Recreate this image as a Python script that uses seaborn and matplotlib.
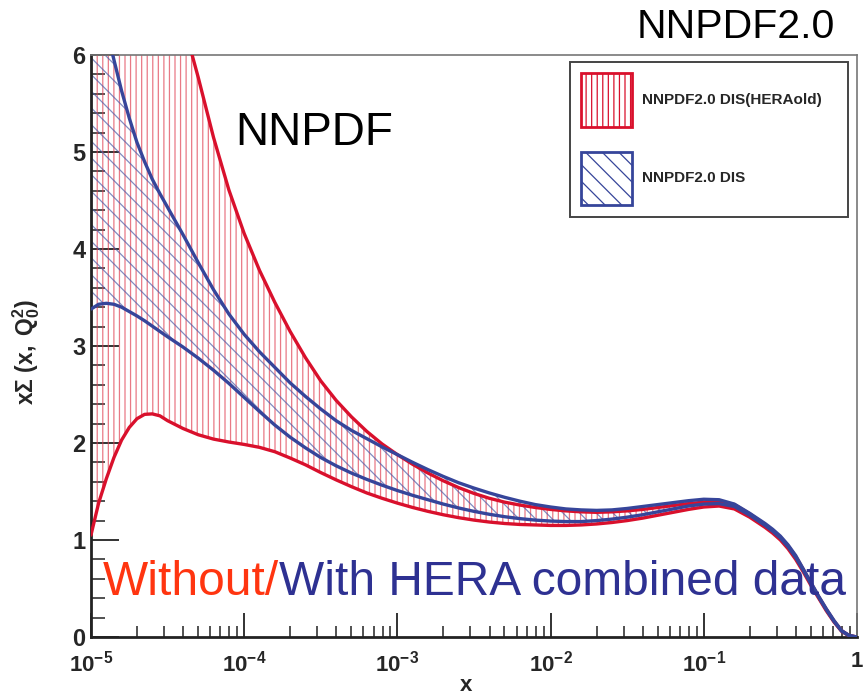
import numpy as np
import pandas as pd
import matplotlib
matplotlib.use("Agg")
import matplotlib.pyplot as plt
import seaborn as sns
from matplotlib.patches import Patch
from matplotlib.ticker import FixedLocator, NullFormatter

# ---------------- data ----------------
log_x = [-5.0, -4.95, -4.9, -4.85, -4.8, -4.75, -4.7, -4.65, -4.6, -4.55,
         -4.5, -4.4, -4.3, -4.2, -4.1, -4.0, -3.9, -3.8, -3.7, -3.6,
         -3.5, -3.4, -3.3, -3.2, -3.1, -3.0, -2.9, -2.8, -2.7, -2.6,
         -2.5, -2.4, -2.3, -2.2, -2.1, -2.0, -1.9, -1.8, -1.7, -1.6,
         -1.5, -1.4, -1.3, -1.2, -1.1, -1.0, -0.9, -0.8, -0.7, -0.6,
         -0.55, -0.5, -0.45, -0.4, -0.35, -0.3, -0.25, -0.2, -0.15, -0.1,
         -0.05, 0.0]

# NNPDF2.0 DIS (HERAold) band
red_upper = [10.2, 9.85, 9.5, 9.15, 8.8, 8.45, 8.1, 7.8, 7.5, 7.2,
             6.9, 6.35, 5.77, 5.15, 4.61, 4.16, 3.78, 3.45, 3.15, 2.88,
             2.64, 2.44, 2.27, 2.12, 1.99, 1.88, 1.78, 1.69, 1.61, 1.54,
             1.48, 1.43, 1.39, 1.36, 1.335, 1.315, 1.30, 1.29, 1.285, 1.29,
             1.30, 1.315, 1.335, 1.355, 1.375, 1.39, 1.40, 1.365, 1.27, 1.16,
             1.10, 1.03, 0.94, 0.83, 0.695, 0.555, 0.415, 0.285, 0.165, 0.065,
             0.014, 0.0]
red_lower = [1.05, 1.38, 1.63, 1.85, 2.03, 2.16, 2.25, 2.295, 2.30, 2.28,
             2.23, 2.15, 2.085, 2.04, 2.01, 1.985, 1.955, 1.91, 1.845, 1.775,
             1.695, 1.62, 1.55, 1.485, 1.43, 1.38, 1.335, 1.295, 1.26, 1.23,
             1.205, 1.185, 1.17, 1.16, 1.155, 1.15, 1.15, 1.155, 1.165, 1.18,
             1.20, 1.225, 1.255, 1.285, 1.315, 1.34, 1.35, 1.32, 1.235, 1.13,
             1.07, 1.00, 0.91, 0.80, 0.67, 0.53, 0.40, 0.27, 0.155, 0.058,
             0.011, 0.0]

# NNPDF2.0 DIS band
blue_upper = [7.0, 6.6, 6.27, 5.95, 5.63, 5.35, 5.10, 4.90, 4.72, 4.57,
              4.43, 4.15, 3.86, 3.58, 3.33, 3.12, 2.94, 2.78, 2.62, 2.48,
              2.35, 2.23, 2.13, 2.045, 1.96, 1.88, 1.80, 1.725, 1.655, 1.59,
              1.535, 1.485, 1.44, 1.40, 1.365, 1.34, 1.32, 1.31, 1.305, 1.31,
              1.325, 1.345, 1.365, 1.385, 1.405, 1.42, 1.415, 1.37, 1.275, 1.17,
              1.11, 1.04, 0.95, 0.84, 0.70, 0.56, 0.42, 0.29, 0.17, 0.065,
              0.015, 0.0]
blue_lower = [3.38, 3.43, 3.44, 3.43, 3.40, 3.355, 3.31, 3.26, 3.205, 3.15,
              3.095, 2.99, 2.875, 2.75, 2.615, 2.47, 2.325, 2.185, 2.06, 1.95,
              1.85, 1.765, 1.69, 1.625, 1.565, 1.51, 1.46, 1.415, 1.37, 1.33,
              1.295, 1.265, 1.24, 1.22, 1.205, 1.195, 1.19, 1.19, 1.20, 1.215,
              1.235, 1.26, 1.29, 1.32, 1.35, 1.37, 1.375, 1.345, 1.255, 1.15,
              1.09, 1.02, 0.93, 0.82, 0.685, 0.545, 0.41, 0.28, 0.16, 0.06,
              0.012, 0.0]

legend_labels = ["NNPDF2.0 DIS(HERAold)", "NNPDF2.0 DIS"]
x_tick_exps = [-5, -4, -3, -2, -1, 0]
x_tick_labels = [r"$\mathbf{10^{-5}}$", r"$\mathbf{10^{-4}}$", r"$\mathbf{10^{-3}}$",
                 r"$\mathbf{10^{-2}}$", r"$\mathbf{10^{-1}}$", r"$\mathbf{1}$"]
y_ticks = [0, 1, 2, 3, 4, 5, 6]

# ---------------- styling ----------------
sns.set_theme(style="white")
plt.rcParams["font.family"] = ["Liberation Sans", "DejaVu Sans"]
plt.rcParams["mathtext.fontset"] = "custom"
plt.rcParams["mathtext.rm"] = "Liberation Sans"
plt.rcParams["mathtext.it"] = "Liberation Sans:italic"
plt.rcParams["mathtext.bf"] = "Liberation Sans:bold"
plt.rcParams["hatch.linewidth"] = 0.9

RED = "#d9102c"
BLUE = "#36459a"
RED_HATCH = (0.88, 0.25, 0.32, 0.7)
BLUE_HATCH = (0.30, 0.36, 0.66, 0.7)

x = 10.0 ** np.array(log_x)
rows = []
for name, vals in [("red_upper", red_upper), ("red_lower", red_lower),
                   ("blue_upper", blue_upper), ("blue_lower", blue_lower)]:
    for xi, v in zip(x, vals):
        rows.append({"x": xi, "val": v, "curve": name})
df = pd.DataFrame(rows)

fig = plt.figure(figsize=(8.63, 6.96), dpi=100)
ax = fig.add_axes([0.1054, 0.0848, 0.8876, 0.8362])
ax.set_xscale("log")

ax.fill_between(x, red_lower, red_upper, facecolor="none", edgecolor=RED_HATCH,
                hatch="|||", linewidth=0, zorder=1)
ax.fill_between(x, blue_lower, blue_upper, facecolor="none", edgecolor=BLUE_HATCH,
                hatch="\\\\", linewidth=0, zorder=2)

sns.lineplot(data=df[df.curve.str.startswith("red")], x="x", y="val", hue="curve",
             palette={"red_upper": RED, "red_lower": RED}, linewidth=2.4,
             legend=False, ax=ax, zorder=3, estimator=None, sort=True)
sns.lineplot(data=df[df.curve.str.startswith("blue")], x="x", y="val", hue="curve",
             palette={"blue_upper": BLUE, "blue_lower": BLUE}, linewidth=2.4,
             legend=False, ax=ax, zorder=4, estimator=None, sort=True)

ax.set_xlim(1e-5, 1)
ax.set_ylim(0, 6)

# ticks
ax.xaxis.set_major_locator(FixedLocator([10.0 ** e for e in x_tick_exps]))
ax.set_xticklabels(x_tick_labels)
minors = [m * 10.0 ** e for e in x_tick_exps[:-1] for m in range(2, 10)]
ax.xaxis.set_minor_locator(FixedLocator(minors))
ax.xaxis.set_minor_formatter(NullFormatter())
ax.set_yticks(y_ticks)
ax.set_yticklabels([str(t) for t in y_ticks])
ax.yaxis.set_minor_locator(FixedLocator(list(np.arange(0, 6.01, 0.2))))
ax.tick_params(axis="both", which="both", direction="in", color="#222222",
               top=False, right=False, bottom=True, left=True)
ax.tick_params(axis="x", which="major", length=17, width=1.3, labelsize=16, pad=10)
ax.tick_params(axis="x", which="minor", length=8, width=1.1)
ax.tick_params(axis="y", which="major", length=20, width=1.3, labelsize=17, pad=4)
ax.tick_params(axis="y", which="minor", length=10, width=1.1)
for lab in ax.get_yticklabels():
    lab.set_fontweight("bold")

for side in ["left", "bottom"]:
    ax.spines[side].set_color("#222222")
    ax.spines[side].set_linewidth(2.0)
for side in ["top", "right"]:
    ax.spines[side].set_color("#777777")
    ax.spines[side].set_linewidth(1.2)

ax.set_xlabel("x", fontsize=16, fontweight="bold")
ax.xaxis.set_label_coords(0.49, -0.066)
ax.set_ylabel(r"$\mathbf{x\Sigma\ (x,\ Q_0^2)}$", fontsize=16.5)
ax.yaxis.set_label_coords(-0.064, 0.49)

# legend
handles = [Patch(facecolor="white", edgecolor=RED, hatch="|||", linewidth=2.0),
           Patch(facecolor="white", edgecolor=BLUE, hatch="\\\\", linewidth=2.0)]
leg = ax.legend(handles=handles, labels=legend_labels, loc="upper right",
                bbox_to_anchor=(0.625, 0.725, 0.363, 0.263), mode="expand",
                fancybox=False, framealpha=1,
                edgecolor="#444444", prop={"weight": "bold", "size": 11},
                handlelength=3.3, handleheight=5.0, labelspacing=1.65,
                borderpad=0.75, handletextpad=0.7, borderaxespad=0)
leg.get_frame().set_linewidth(1.4)
leg.set_zorder(10)

# texts
ax.text(0.188, 0.845, "NNPDF", transform=ax.transAxes, fontsize=33,
        color="black", va="baseline", ha="left", zorder=11)
fig.text(0.738, 0.945, "NNPDF2.0", fontsize=29.5, color="black",
         va="baseline", ha="left")
t1 = ax.text(0.0157, 0.072, "Without/", transform=ax.transAxes, fontsize=34.5,
             color="#ff3510", va="baseline", ha="left", zorder=12)
ax.annotate("With HERA combined data", xy=(1, 0), xycoords=t1,
            fontsize=34.5, color="#2e3192", va="bottom", ha="left", zorder=12)

fig.savefig("out.png", dpi=100)
